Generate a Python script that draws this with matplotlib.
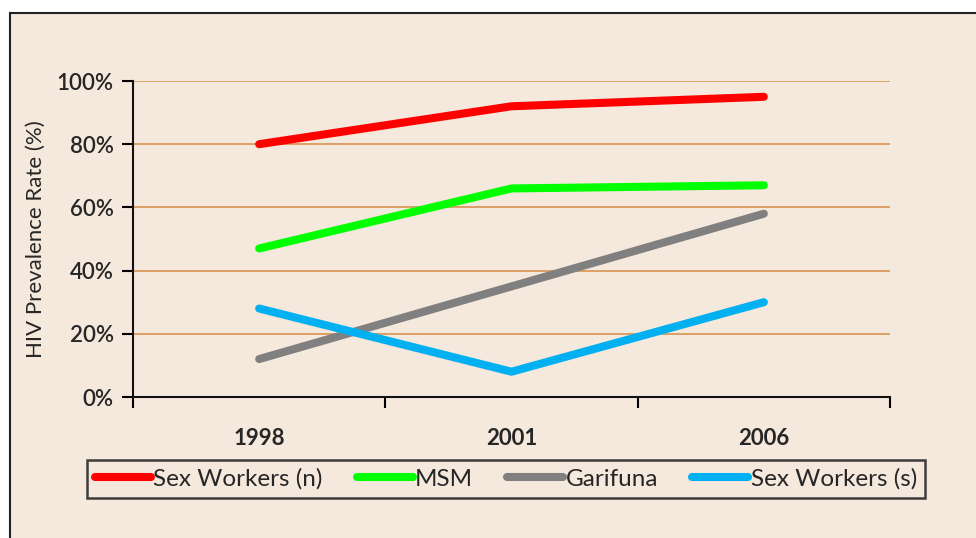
import matplotlib
matplotlib.use("Agg")
from matplotlib import pyplot as plt
from matplotlib.patches import Rectangle

years = ["1998", "2001", "2006"]
sex_workers_n = [80, 92, 95]
msm = [47, 66, 67]
garifuna = [12, 35, 58]
sex_workers_s = [28, 8, 30]

series = [
    ("Sex Workers (n)", sex_workers_n, "#ff0000"),
    ("MSM", msm, "#00ff00"),
    ("Garifuna", garifuna, "#808080"),
    ("Sex Workers (s)", sex_workers_s, "#00b0f0"),
]
yticks = [0, 20, 40, 60, 80, 100]

bg = "#f5e8dc"
plt.rcParams["font.family"] = ["Lato", "DejaVu Sans"]

fig = plt.figure(figsize=(9.76, 5.38), dpi=100)
fig.patch.set_facecolor("white")
# outer panel (framed, runs off the right/bottom edges)
fig.patches.append(Rectangle((10 / 976, -0.05), 1.1, 1 - 13 / 538 + 0.05,
                             transform=fig.transFigure, facecolor=bg,
                             edgecolor="#222222", linewidth=1.5, zorder=-1))

ax = fig.add_axes([133 / 976, 1 - 397 / 538, (890 - 133) / 976, (397 - 81) / 538])
ax.set_facecolor("none")

x = list(range(len(years)))
for name, vals, col in series:
    ax.plot(x, vals, color=col, lw=5.8, solid_capstyle="round",
            solid_joinstyle="round", label=name, zorder=3)

ax.set_xlim(-0.5, 2.5)
ax.set_ylim(0, 100)
ax.set_yticks(yticks)
ax.set_yticklabels([f"{v}%" for v in yticks])
for v in yticks[1:]:
    ax.axhline(v, color="#d99a5b", lw=1.3, zorder=1)

ax.set_xticks([-0.5, 0.5, 1.5, 2.5])
ax.set_xticklabels([])
ax.set_xticks(x, minor=True)
ax.set_xticklabels(years, minor=True, fontweight="bold", fontsize=16, color="#262626")
ax.tick_params(axis="x", which="major", direction="out", length=8, width=1.5)
ax.tick_params(axis="x", which="minor", length=0, pad=22)
ax.tick_params(axis="y", direction="out", length=8, width=1.5, labelsize=16,
               labelcolor="#262626", pad=6)
for lbl in ax.get_yticklabels():
    lbl.set_fontweight("semibold")

for s in ["top", "right"]:
    ax.spines[s].set_visible(False)
for s in ["left", "bottom"]:
    ax.spines[s].set_linewidth(1.5)
    ax.spines[s].set_color("#111111")

ax.set_ylabel("HIV Prevalence Rate (%)", fontsize=16, color="#262626", labelpad=8)

leg = fig.legend(loc="center", bbox_to_anchor=((77 + 935) / 2 / 976, 1 - 479 / 538),
                 ncol=4, frameon=True, fancybox=False, fontsize=17.5,
                 handlelength=2.3, handletextpad=0.1, columnspacing=1.4,
                 borderpad=0.35)
leg.get_frame().set_edgecolor("#111111")
leg.get_frame().set_linewidth(1.8)
leg.get_frame().set_facecolor(bg)
for t in leg.get_texts():
    t.set_color("#262626")

fig.savefig("out.png", dpi=100, facecolor=fig.get_facecolor())
